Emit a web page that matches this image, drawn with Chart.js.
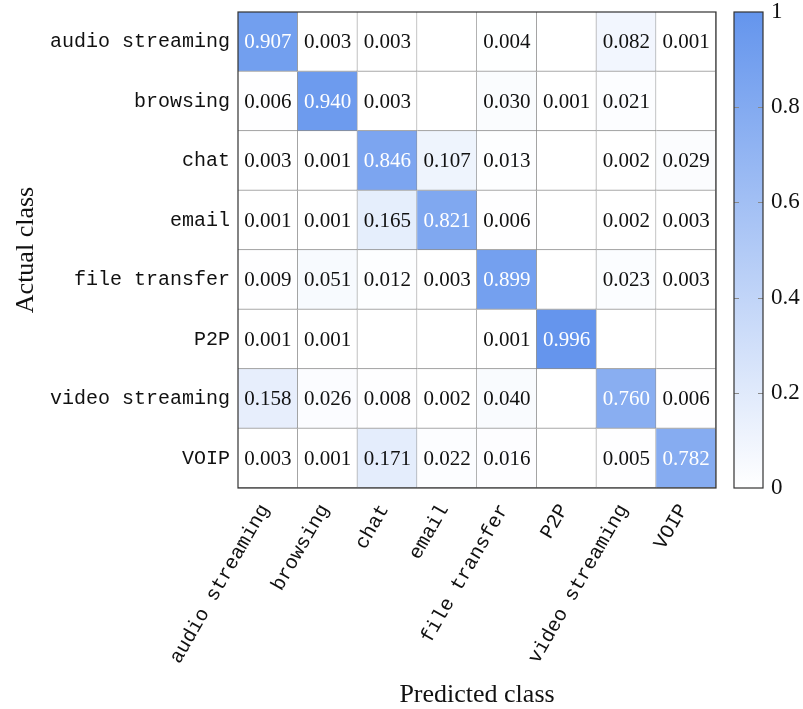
<!DOCTYPE html>
<html>
<head>
<meta charset="utf-8">
<script src="https://cdn.jsdelivr.net/npm/chart.js@4/dist/chart.umd.min.js"></script>
<style>
    html, body { margin: 0; padding: 0; background: #fff; }
    #wrap { position: relative; width: 803px; height: 709px; }
    #matrixChart { position: absolute; left: 0; top: 0; }
    #barChart { position: absolute; left: 700px; top: 0; }
</style>
</head>
<body>
<div id="wrap">
    <canvas id="matrixChart" width="803" height="709"></canvas>
    <canvas id="barChart" width="103" height="709"></canvas>
</div>
<script>

// ---------------- DATA ----------------

const classes = [
    "audio streaming",
    "browsing",
    "chat",
    "email",
    "file transfer",
    "P2P",
    "video streaming",
    "VOIP"
];

// one row per actual class, one column per predicted class (null = blank cell)
const audioStreamingRow = [0.907, 0.003, 0.003, null, 0.004, null, 0.082, 0.001];
const browsingRow       = [0.006, 0.940, 0.003, null, 0.030, 0.001, 0.021, null];
const chatRow           = [0.003, 0.001, 0.846, 0.107, 0.013, null, 0.002, 0.029];
const emailRow          = [0.001, 0.001, 0.165, 0.821, 0.006, null, 0.002, 0.003];
const fileTransferRow   = [0.009, 0.051, 0.012, 0.003, 0.899, null, 0.023, 0.003];
const p2pRow            = [0.001, 0.001, null, null, 0.001, 0.996, null, null];
const videoStreamingRow = [0.158, 0.026, 0.008, 0.002, 0.040, null, 0.760, 0.006];
const voipRow           = [0.003, 0.001, 0.171, 0.022, 0.016, null, 0.005, 0.782];

const matrix = [
    audioStreamingRow,
    browsingRow,
    chatRow,
    emailRow,
    fileTransferRow,
    p2pRow,
    videoStreamingRow,
    voipRow
];

const colorbarTicks = [0, 0.2, 0.4, 0.6, 0.8, 1];

// ---------------- HELPERS ----------------

const lowColor = [255, 255, 255];
const highColor = [100, 149, 237];

function cellColor(v) {
    const t = v == null ? 0 : v;
    const c = lowColor.map((lo, k) => Math.round(lo + (highColor[k] - lo) * t));
    return "rgb(" + c.join(",") + ")";
}

const monoFont = "'Liberation Mono', 'DejaVu Sans Mono', monospace";
const serifFont = "'Liberation Serif', 'DejaVu Serif', serif";

// ---------------- CELL TEXT + FRAME ----------------

const cellText = {
    id: "cellText",
    afterDatasetsDraw(chart) {
        const ctx = chart.ctx;
        ctx.save();
        ctx.font = "21px " + serifFont;
        ctx.textAlign = "center";
        ctx.textBaseline = "middle";

        chart.data.datasets.forEach((ds, i) => {
            chart.getDatasetMeta(i).data.forEach((bar, j) => {
                const v = matrix[i][j];
                if (v == null) return;
                const p = bar.getProps(["x", "y", "base"], true);
                ctx.fillStyle = v > 0.5 ? "#ffffff" : "#111111";
                ctx.fillText(v.toFixed(3), p.x, (p.y + p.base) / 2 + 1);
            });
        });

        const a = chart.chartArea;
        ctx.strokeStyle = "#333";
        ctx.lineWidth = 1.2;
        ctx.strokeRect(a.left, a.top, a.right - a.left, a.bottom - a.top);
        ctx.restore();
    }
};

// ---------------- MATRIX CHART ----------------

new Chart(
    document.getElementById("matrixChart"),
    {
        type: "bar",

        data: {
            labels: classes,
            datasets: matrix.map((row, i) => ({
                label: classes[i],
                data: row.map(() => [i, i + 1]),
                backgroundColor: row.map(v => cellColor(v)),
                borderColor: "#8c8c8c",
                borderWidth: { top: 0, left: 0, right: 1, bottom: 1 },
                borderSkipped: false,
                barPercentage: 1,
                categoryPercentage: 1,
                grouped: false
            }))
        },

        options: {
            responsive: false,
            animation: false,
            layout: {
                padding: { top: 12, right: 87, bottom: 0, left: 0 }
            },
            plugins: {
                legend: { display: false },
                tooltip: { enabled: false }
            },
            scales: {
                x: {
                    grid: { display: false, drawTicks: false },
                    border: { display: false },
                    ticks: {
                        autoSkip: false,
                        minRotation: 60,
                        maxRotation: 60,
                        padding: 12,
                        labelOffset: -3,
                        color: "#111",
                        font: { family: monoFont, size: 20 }
                    },
                    title: {
                        display: true,
                        text: "Predicted class",
                        color: "#111",
                        padding: { top: 0, bottom: -2 },
                        font: { family: serifFont, size: 26 }
                    },
                    afterFit(scale) {
                        scale.height = 221;
                        scale.paddingLeft = 0;
                        scale.paddingRight = 0;
                    }
                },
                y: {
                    type: "linear",
                    min: 0,
                    max: classes.length,
                    reverse: true,
                    grid: { display: false, drawTicks: false },
                    border: { display: false },
                    afterBuildTicks(scale) {
                        scale.ticks = classes.map((c, i) => ({ value: i + 0.5 }));
                    },
                    ticks: {
                        autoSkip: false,
                        padding: 8,
                        color: "#111",
                        font: { family: monoFont, size: 20 },
                        callback: (value, index) => classes[index]
                    },
                    title: {
                        display: true,
                        text: "Actual class",
                        color: "#111",
                        padding: { top: 11, bottom: 0 },
                        font: { family: serifFont, size: 26 }
                    },
                    afterFit(scale) {
                        scale.width = 238;
                        scale.paddingTop = 0;
                        scale.paddingBottom = 0;
                    }
                }
            }
        },

        plugins: [cellText]
    }
);

// ---------------- COLORBAR ----------------

const colorbarFrame = {
    id: "colorbarFrame",
    afterDatasetsDraw(chart) {
        const ctx = chart.ctx;
        const a = chart.chartArea;
        const y = chart.scales.y;
        ctx.save();
        ctx.strokeStyle = "#888";
        ctx.lineWidth = 1;
        y.ticks.forEach(t => {
            if (t.value <= 0 || t.value >= 1) return;
            const py = Math.round(y.getPixelForValue(t.value)) + 0.5;
            ctx.beginPath();
            ctx.moveTo(a.left, py);
            ctx.lineTo(a.left + 5, py);
            ctx.moveTo(a.right - 5, py);
            ctx.lineTo(a.right, py);
            ctx.stroke();
        });
        ctx.strokeStyle = "#333";
        ctx.lineWidth = 1.2;
        ctx.strokeRect(a.left, a.top, a.right - a.left, a.bottom - a.top);
        ctx.restore();
    }
};

new Chart(
    document.getElementById("barChart"),
    {
        type: "bar",

        data: {
            labels: [""],
            datasets: [{
                data: [[0, 1]],
                backgroundColor: (c) => {
                    const chart = c.chart;
                    if (!chart.chartArea) return cellColor(0.5);
                    const y = chart.scales.y;
                    const g = chart.ctx.createLinearGradient(
                        0, y.getPixelForValue(0), 0, y.getPixelForValue(1)
                    );
                    g.addColorStop(0, cellColor(0));
                    g.addColorStop(1, cellColor(1));
                    return g;
                },
                borderWidth: 0,
                barPercentage: 1,
                categoryPercentage: 1
            }]
        },

        options: {
            responsive: false,
            animation: false,
            layout: {
                padding: { top: 12, right: 0, bottom: 221, left: 34 }
            },
            plugins: {
                legend: { display: false },
                tooltip: { enabled: false }
            },
            scales: {
                x: { display: false },
                y: {
                    position: "right",
                    min: 0,
                    max: 1,
                    grid: { display: false, drawTicks: false },
                    border: { display: false },
                    afterBuildTicks(scale) {
                        scale.ticks = colorbarTicks.map(v => ({ value: v }));
                    },
                    ticks: {
                        padding: 8,
                        color: "#111",
                        font: { family: serifFont, size: 23 },
                        callback: (value) => String(value)
                    },
                    afterFit(scale) {
                        scale.width = 40;
                        scale.paddingTop = 0;
                        scale.paddingBottom = 0;
                    }
                }
            }
        },

        plugins: [colorbarFrame]
    }
);

</script>
</body>
</html>
